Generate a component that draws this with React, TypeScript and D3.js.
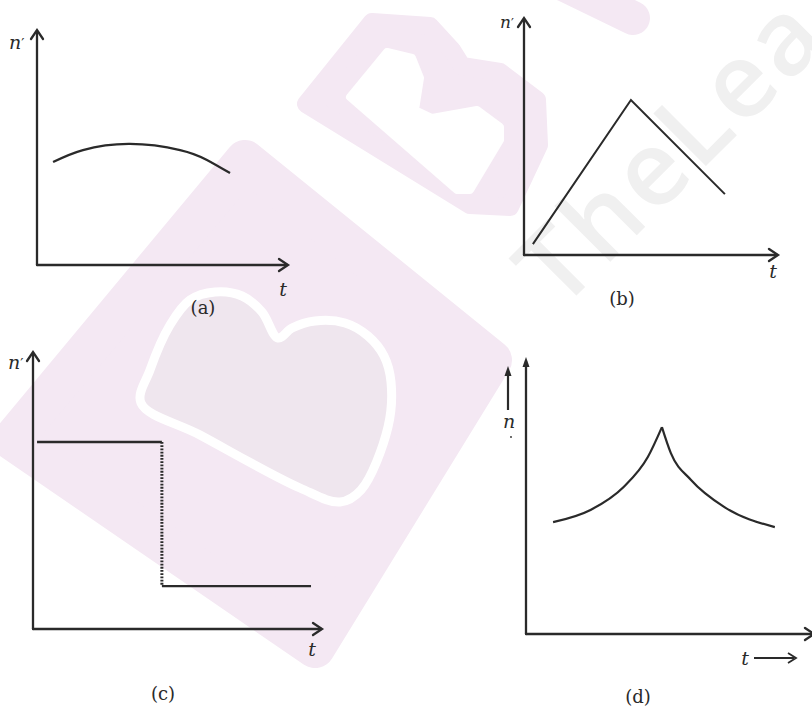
import React from "react";
import * as d3 from "d3";

type Pt = [number, number];

// all values in axis units, 0–100 along each axis (t, n)
const curveA: Pt[] = [[6.4, 43.8], [18.3, 48.9], [37, 51.5], [57, 48.9], [67.7, 44.7], [76.9, 39.1]];
const lineB: Pt[] = [[3.5, 4.6], [42.1, 65.4], [79.1, 25.7]];
const highC: Pt[] = [[1.4, 67.5], [44.6, 67.5]];
const dropC: Pt[] = [[44.6, 67.5], [44.6, 15.5]];
const lowC: Pt[] = [[44.6, 15.5], [96.2, 15.5]];
const riseD: Pt[] = [[9.4, 40.4], [22.4, 44.8], [33.9, 53.1], [42.3, 63.9], [47.2, 74.7]];
const fallD: Pt[] = [[47.2, 74.7], [50.3, 65.3], [57.3, 55.6], [68.9, 45.8], [86.4, 38.6]];
const captions = ["(a)", "(b)", "(c)", "(d)"];

const INK = "#2a2a2a";
const PINK = "#f4e8f3";
const SERIF = "'DejaVu Serif', 'Liberation Serif', serif";

type Box = { left: number; bottom: number; right: number; top: number };

const boxes: Box[] = [
  { left: 37, bottom: 265, right: 288, top: 30 },
  { left: 524, bottom: 255, right: 778, top: 18 },
  { left: 33, bottom: 629, right: 322, top: 352 },
  { left: 526, bottom: 634, right: 814, top: 357 },
];

const scalesFor = (b: Box) => ({
  x: d3.scaleLinear().domain([0, 100]).range([b.left, b.right]),
  y: d3.scaleLinear().domain([0, 100]).range([b.bottom, b.top]),
});

const chevronRight = (x: number, y: number) => `M${x - 9},${y - 6}L${x},${y}L${x - 9},${y + 6}`;
const chevronUp = (x: number, y: number) => `M${x - 6},${y + 9}L${x},${y}L${x + 6},${y + 9}`;
const triUp = (x: number, y: number) => `M${x},${y}L${x - 3.5},${y + 10}L${x + 3.5},${y + 10}Z`;

// watermark outlines (background decoration)
const wmLower: Pt[] = [[12, 440], [245, 160], [492, 360], [315, 648]];
const wmHeart: Pt[] = [[141, 403], [150, 370], [170, 325], [190, 300], [215, 292], [242, 296], [262, 312], [278, 338], [292, 328], [315, 321], [345, 323], [368, 336], [384, 356], [391, 382], [388, 427], [361, 490], [340, 502], [300, 488], [200, 435]];
const wmUpper: Pt[] = [[306, 104], [372, 22], [430, 26], [452, 50], [462, 66], [500, 72], [537, 100], [539, 145], [510, 207], [470, 205]];
const wmHole: Pt[] = [[350, 97], [387, 52], [412, 58], [420, 78], [415, 110], [432, 118], [477, 110], [500, 127], [500, 140], [470, 190], [457, 190]];

function Axes({ b, filledY }: { b: Box; filledY?: boolean }) {
  const { x, y } = scalesFor(b);
  return (
    <g stroke={INK} strokeWidth={2.3} fill="none" strokeLinecap="round">
      <line x1={x(0)} y1={y(0)} x2={x(0)} y2={y(100) + (filledY ? 4 : 1)} />
      <line x1={x(0)} y1={y(0)} x2={x(100) - 1} y2={y(0)} />
      {filledY ? (
        <path d={triUp(x(0), y(100))} fill={INK} stroke="none" />
      ) : (
        <path d={chevronUp(x(0), y(100))} strokeLinejoin="miter" />
      )}
      <path d={chevronRight(x(100), y(0))} strokeLinejoin="miter" />
    </g>
  );
}

export default function App() {
  const [ba, bb, bc, bd] = boxes;
  const sa = scalesFor(ba), sb = scalesFor(bb), sc = scalesFor(bc), sd = scalesFor(bd);
  const path = (s: ReturnType<typeof scalesFor>, data: Pt[], curve: d3.CurveFactory = d3.curveLinear) =>
    d3.line<Pt>().x((d) => s.x(d[0])).y((d) => s.y(d[1])).curve(curve)(data) || "";
  const wmPath = (pts: Pt[], curve: d3.CurveFactory = d3.curveLinearClosed) => d3.line<Pt>().curve(curve)(pts) || "";

  const nLabel = (x: number, y: number, size = 19) => (
    <text x={x} y={y} fontFamily={SERIF} fontStyle="italic" fontSize={size} fill={INK}>
      n<tspan fontSize={size * 0.75} fontStyle="normal">′</tspan>
    </text>
  );
  const tLabel = (x: number, y: number) => (
    <text x={x} y={y} fontFamily={SERIF} fontStyle="italic" fontSize={19} fill={INK} textAnchor="middle">t</text>
  );
  const cap = (i: number, x: number, y: number) => (
    <text x={x} y={y} fontFamily={SERIF} fontSize={18} fill={INK} textAnchor="middle">{captions[i]}</text>
  );

  return (
    <svg width={812} height={709} style={{ position: "absolute", left: 0, top: 0, background: "#fff" }}>
      {/* watermark */}
      <g>
        <path d={wmPath(wmLower)} fill={PINK} stroke={PINK} strokeWidth={40} strokeLinejoin="round" />
        <path d={wmPath(wmHeart, d3.curveCatmullRomClosed.alpha(0.5))} fill="#efe6ee" stroke="#fff" strokeWidth={9} strokeLinejoin="round" />
        <path d={wmPath(wmUpper)} fill={PINK} stroke={PINK} strokeWidth={18} strokeLinejoin="round" />
        <path d={wmPath(wmHole)} fill="#fff" stroke="#fff" strokeWidth={8} strokeLinejoin="round" />
        <line x1={565} y1={-15} x2={633} y2={18} stroke={PINK} strokeWidth={34} strokeLinecap="round" />
        <text transform="translate(560,312) rotate(-45)" fontFamily="'Open Sans', 'DejaVu Sans', sans-serif" fontWeight={600} fontSize={104} fill="#f0f0f0" letterSpacing={4}>
          TheLea
        </text>
      </g>

      {/* (a) */}
      <Axes b={ba} />
      <path d={path(sa, curveA, d3.curveNatural)} fill="none" stroke={INK} strokeWidth={2.3} />
      {nLabel(9, 49)}
      {tLabel(283, 296)}
      {cap(0, 203, 314)}

      {/* (b) */}
      <Axes b={bb} />
      <path d={path(sb, lineB)} fill="none" stroke={INK} strokeWidth={2} />
      {nLabel(500, 28, 17)}
      {tLabel(773, 278)}
      {cap(1, 622, 305)}

      {/* (c) */}
      <Axes b={bc} />
      <path d={path(sc, highC)} fill="none" stroke={INK} strokeWidth={2.4} />
      <path d={path(sc, dropC)} fill="none" stroke={INK} strokeWidth={3} strokeDasharray="1.8,1.4" />
      <path d={path(sc, lowC)} fill="none" stroke={INK} strokeWidth={2.2} />
      {nLabel(8, 369)}
      {tLabel(312, 656)}
      {cap(2, 163, 700)}

      {/* (d) */}
      <Axes b={bd} filledY />
      <path d={path(sd, riseD, d3.curveMonotoneX)} fill="none" stroke={INK} strokeWidth={2.2} />
      <path d={path(sd, fallD, d3.curveMonotoneX)} fill="none" stroke={INK} strokeWidth={2.2} />
      <line x1={508} y1={410} x2={508} y2={372} stroke={INK} strokeWidth={2.2} />
      <path d={triUp(508, 366)} fill={INK} />
      <text x={509} y={428} fontFamily={SERIF} fontStyle="italic" fontSize={19} fill={INK} textAnchor="middle">n</text>
      <circle cx={511} cy={437} r={0.9} fill={INK} />
      <text x={745} y={665} fontFamily={SERIF} fontStyle="italic" fontSize={19} fill={INK} textAnchor="middle">t</text>
      <line x1={754} y1={658} x2={794} y2={658} stroke={INK} strokeWidth={1.8} />
      <path d={`M${788},${653}L${796},${658}L${788},${663}`} fill="none" stroke={INK} strokeWidth={1.8} />
      {cap(3, 638, 703)}
    </svg>
  );
}
